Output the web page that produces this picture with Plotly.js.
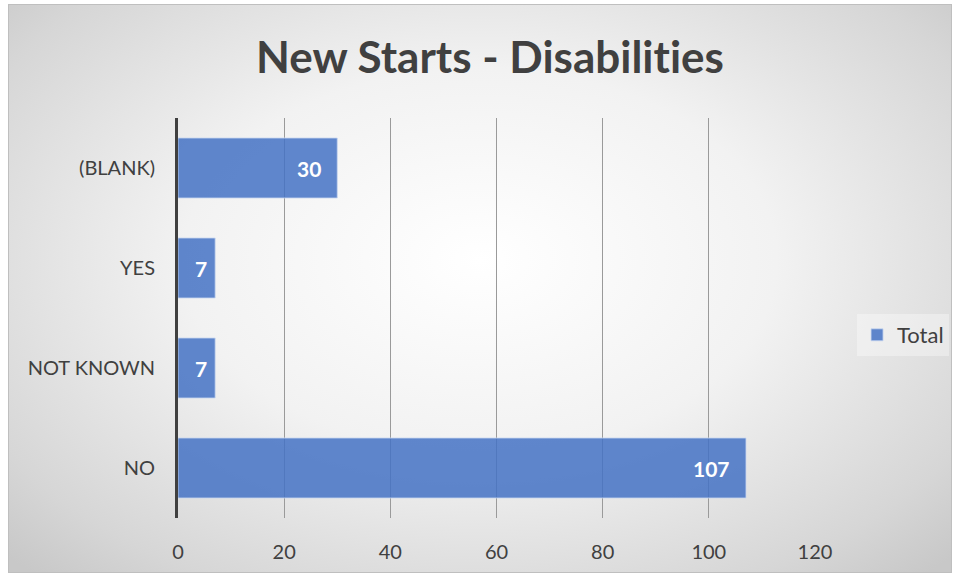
<!DOCTYPE html>
<html>
<head>
<meta charset="utf-8">
<script src="https://cdn.plot.ly/plotly-3.0.1.min.js"></script>
<style>
  html, body { margin: 0; padding: 0; width: 957px; height: 575px; overflow: hidden; background: #ffffff; }
  #wrap { position: absolute; left: 8px; top: 4px; width: 942px; height: 567px; border: 1.5px solid #bfbfbf;
          background: radial-gradient(ellipse 70% 75% at 50% 45%, #ffffff 0%, #f2f2f2 45%, #d6d6d6 85%, #c8c8c8 100%); }
  #chart { position: absolute; left: 0; top: 0; width: 957px; height: 575px; }
  #chart text { font-variant-ligatures: none; font-feature-settings: "liga" 0, "clig" 0; }
</style>
</head>
<body>
<div id="wrap"></div>
<div id="chart"></div>
<script>
const categories = ['NO', 'NOT KNOWN', 'YES', '(BLANK)'];
const totals = [107, 7, 7, 30];
const xTicks = [0, 20, 40, 60, 80, 100, 120];
const seriesName = 'Total';
const chartTitle = 'New Starts - Disabilities';

const trace = {
  type: 'bar',
  orientation: 'h',
  name: seriesName,
  y: categories,
  x: totals,
  width: 0.6,
  marker: { color: 'rgba(68,114,196,0.85)', line: { color: 'rgba(200,215,240,0.8)', width: 1 } },
  textposition: 'none',
  showlegend: true,
  hoverinfo: 'x+y'
};

const annotations = categories.map((c, i) => ({
  x: totals[i], y: c, xref: 'x', yref: 'y',
  text: '<b>' + totals[i] + '</b>',
  showarrow: false, xanchor: 'right', yanchor: 'middle',
  xshift: totals[i] < 10 ? -6 : -14,
  font: { family: 'Lato, sans-serif', size: 21, color: '#ffffff' }
}));

const layout = {
  width: 957, height: 575,
  paper_bgcolor: 'rgba(0,0,0,0)',
  plot_bgcolor: 'rgba(0,0,0,0)',
  margin: { l: 178, r: 142, t: 118, b: 57, autoexpand: false },
  title: { text: '<b>' + chartTitle + '</b>', x: 0.512, xanchor: 'center', y: 0.9, yanchor: 'middle', yref: 'container',
           font: { family: 'Lato, sans-serif', size: 44, color: '#404040' } },
  xaxis: {
    range: [0, 120], tickvals: xTicks, ticktext: xTicks.map(String),
    showgrid: true, gridcolor: '#9a9a9a', gridwidth: 1,
    zeroline: false, showline: false, ticks: '',
    ticklabelstandoff: 20,
    tickfont: { family: 'Lato, sans-serif', size: 20, color: '#404040' },
    fixedrange: true
  },
  yaxis: {
    type: 'category', categoryorder: 'array', categoryarray: categories,
    showgrid: false, zeroline: false,
    showline: true, linecolor: '#404040', linewidth: 3,
    ticks: '', ticklabelstandoff: 16,
    tickfont: { family: 'Lato, sans-serif', size: 20, color: '#404040' },
    fixedrange: true
  },
  annotations: annotations,
  showlegend: true,
  legend: {
    x: 1.066, xanchor: 'left', y: 0.4575, yanchor: 'middle',
    bgcolor: 'rgba(255,255,255,0.35)', borderwidth: 0,
    font: { family: 'Lato, sans-serif', size: 22, color: '#404040' },
    itemwidth: 30
  },
  bargap: 0.4
};

Plotly.newPlot('chart', [trace], layout, { displayModeBar: false, staticPlot: true });
</script>
</body>
</html>
